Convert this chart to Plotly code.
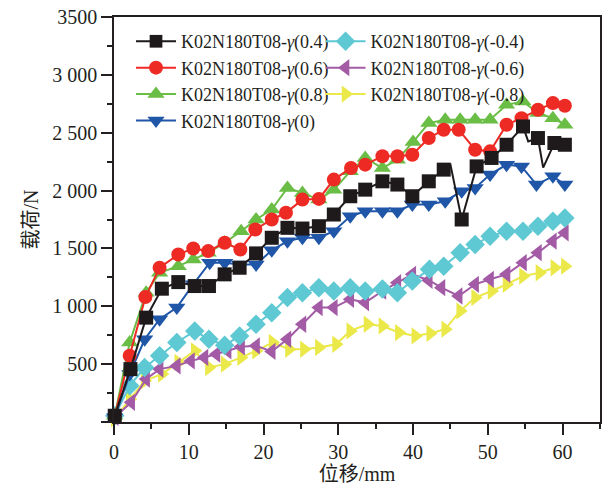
import plotly.graph_objects as go

# ---- data ----
x_p04 = [0.1, 2.2, 4.3, 6.4, 8.6, 10.8, 12.7, 14.8, 16.8, 19.0, 21.1, 23.2, 25.2, 27.4, 29.4, 31.6, 33.6,
         35.9, 37.9, 39.9, 42.1, 44.1, 45.0, 46.5, 48.5, 50.5, 52.5, 54.7, 55.4, 56.7, 57.4, 58.9, 60.3]
y_p04 = [54, 457, 902, 1152, 1209, 1175, 1175, 1276, 1333, 1457, 1592, 1678, 1672, 1692, 1793, 1951, 2008,
         2080, 2052, 1951, 2080, 2181, 2224, 1750, 2209, 2282, 2396, 2554, 2425, 2454, 2198, 2411, 2396]
m_p04 = [1, 1, 1, 1, 1, 1, 1, 1, 1, 1, 1, 1, 1, 1, 1, 1, 1,
         1, 1, 1, 1, 1, 0, 1, 1, 1, 1, 1, 0, 1, 0, 1, 1]

x_p06 = [0.1, 2.1, 4.2, 6.1, 8.6, 10.6, 12.6, 14.8, 16.9, 18.9, 21.1, 23.0, 25.2, 27.4, 29.4, 31.7, 33.6,
         35.9, 37.9, 39.9, 42.1, 44.1, 46.1, 48.3, 50.3, 52.5, 54.5, 56.7, 58.7, 60.3]
y_p06 = [54, 572, 1080, 1333, 1448, 1500, 1477, 1549, 1491, 1664, 1750, 1808, 1922, 1928, 2095, 2195, 2224,
         2296, 2296, 2310, 2454, 2526, 2526, 2353, 2339, 2569, 2626, 2698, 2756, 2733]

x_p08 = [0.1, 2.1, 4.3, 6.1, 8.6, 10.6, 12.6, 14.8, 17.0, 19.0, 21.1, 23.2, 25.2, 27.4, 29.4, 31.6, 33.6,
         35.9, 37.9, 40.0, 42.1, 44.3, 46.3, 48.3, 50.3, 52.5, 54.7, 56.7, 58.7, 60.3]
y_p08 = [54, 687, 1118, 1290, 1347, 1405, 1462, 1549, 1649, 1750, 1836, 2023, 1980, 1922, 2008, 2166, 2282,
         2195, 2267, 2420, 2583, 2612, 2612, 2612, 2612, 2741, 2770, 2670, 2626, 2569]

x_0 = [0.1, 2.1, 4.1, 6.1, 8.4, 10.6, 12.8, 14.8, 16.8, 19.0, 21.1, 23.2, 25.2, 27.4, 29.4, 31.6, 33.6,
       35.9, 37.9, 39.9, 42.1, 44.3, 46.5, 48.3, 50.3, 52.5, 54.5, 56.5, 58.7, 60.3]
y_0 = [40, 414, 715, 888, 989, 1190, 1377, 1377, 1362, 1362, 1484, 1563, 1592, 1592, 1649, 1778, 1821,
       1821, 1821, 1879, 1880, 1908, 1994, 2023, 2138, 2224, 2209, 2052, 2123, 2052]

x_m04 = [0.1, 2.1, 4.1, 6.1, 8.4, 10.8, 12.7, 14.8, 16.8, 19.0, 21.1, 23.2, 25.2, 27.4, 29.4, 31.6, 33.6,
         35.9, 37.9, 39.9, 42.2, 44.1, 46.3, 48.3, 50.3, 52.5, 54.7, 56.7, 58.7, 60.3]
y_m04 = [54, 313, 471, 572, 687, 787, 715, 663, 744, 845, 945, 1075, 1118, 1161, 1132, 1161, 1132,
         1150, 1118, 1218, 1319, 1347, 1463, 1534, 1606, 1649, 1649, 1692, 1735, 1764]

x_m06 = [0.1, 2.3, 4.3, 6.1, 8.4, 10.3, 12.1, 13.7, 15.2, 17.0, 19.0, 21.1, 23.2, 25.2, 27.4, 29.4, 31.6,
         33.6, 35.9, 37.9, 39.9, 42.1, 43.8, 46.1, 48.3, 50.3, 52.5, 54.7, 56.7, 58.7, 60.3]
y_m06 = [40, 170, 371, 457, 485, 528, 558, 586, 615, 650, 658, 610, 715, 845, 989, 989, 1060,
         1032, 1132, 1204, 1276, 1225, 1161, 1089, 1190, 1233, 1276, 1377, 1463, 1563, 1635]

x_m08 = [0.1, 2.1, 4.1, 6.4, 8.6, 10.8, 12.7, 14.8, 17.0, 19.0, 21.2, 23.4, 25.4, 27.4, 29.7, 31.6, 33.9,
         35.9, 38.1, 40.3, 42.3, 44.3, 46.3, 48.3, 50.5, 52.5, 54.7, 56.9, 58.9, 60.3]
y_m08 = [30, 198, 356, 414, 515, 615, 471, 500, 558, 615, 687, 629, 629, 644, 672, 787, 845,
         830, 773, 744, 766, 802, 960, 1075, 1132, 1190, 1261, 1290, 1333, 1347]

x_ticks = [0, 10, 20, 30, 40, 50, 60]
y_ticks = [0, 500, 1000, 1500, 2000, 2500, 3000, 3500]
y_ticktext = ["", "500", "1 000", "1 500", "2 000", "2 500", "3 000", "3500"]

FONT = "Liberation Serif, Times New Roman, Noto Sans CJK SC, serif"
AX = "#231f20"

series = [
    ("K02N180T08-<i>γ</i>(0.4)", x_p04, y_p04, "#1e1a1b", "square", 14, "legend", m_p04),
    ("K02N180T08-<i>γ</i>(0.6)", x_p06, y_p06, "#ee2a24", "circle", 14, "legend", None),
    ("K02N180T08-<i>γ</i>(0.8)", x_p08, y_p08, "#6abd45", "triangle-up", 15, "legend", None),
    ("K02N180T08-<i>γ</i>(0)", x_0, y_0, "#1f56a8", "triangle-down", 15, "legend", None),
    ("K02N180T08-<i>γ</i>(-0.4)", x_m04, y_m04, "#5ec8d3", "diamond", 15, "legend2", None),
    ("K02N180T08-<i>γ</i>(-0.6)", x_m06, y_m06, "#a35ba6", "triangle-left", 15, "legend2", None),
    ("K02N180T08-<i>γ</i>(-0.8)", x_m08, y_m08, "#ebe84a", "triangle-right", 15, "legend2", None),
]

fig = go.Figure()
# draw lower series first so upper ones sit on top like the reference
for name, xs, ys, col, sym, sz, leg, mflags in reversed(series):
    size = sz if mflags is None else [sz if f else 0 for f in mflags]
    fig.add_trace(go.Scatter(
        x=xs, y=ys, name=name, mode="lines+markers", legend=leg,
        line=dict(color=col, width=2),
        marker=dict(symbol=sym, size=size, color=col, opacity=1, line=dict(width=0)),
        cliponaxis=False,
    ))

fig.update_layout(
    width=606, height=489,
    margin=dict(l=114, r=4, t=17, b=67),
    paper_bgcolor="white", plot_bgcolor="white",
    font=dict(family=FONT, size=20, color=AX),
    showlegend=True,
    legend=dict(x=0.035, y=0.985, xanchor="left", yanchor="top",
                bgcolor="rgba(0,0,0,0)", font=dict(size=18, family=FONT, color=AX),
                traceorder="reversed", tracegroupgap=0, itemwidth=40,
                borderwidth=0),
    legend2=dict(x=0.425, y=0.985, xanchor="left", yanchor="top",
                 bgcolor="rgba(0,0,0,0)", font=dict(size=18, family=FONT, color=AX),
                 traceorder="reversed", tracegroupgap=0, itemwidth=40,
                 borderwidth=0),
    xaxis=dict(
        range=[0, 65], tickmode="array", tickvals=x_ticks,
        ticks="outside", ticklen=11, tickwidth=1.5, tickcolor=AX,
        minor=dict(tickmode="linear", tick0=0, dtick=5, ticks="outside", ticklen=5, tickwidth=1.5, tickcolor=AX),
        showline=True, linecolor=AX, linewidth=1.5, mirror=True,
        showgrid=False, zeroline=False,
        tickfont=dict(size=20, family=FONT, color=AX),
        title=dict(text="位移/mm", font=dict(size=20, family=FONT, color=AX), standoff=0),
    ),
    yaxis=dict(
        range=[0, 3500], tickmode="array", tickvals=y_ticks, ticktext=y_ticktext,
        ticks="outside", ticklen=11, tickwidth=1.5, tickcolor=AX,
        minor=dict(tickmode="linear", tick0=0, dtick=250, ticks="outside", ticklen=5, tickwidth=1.5, tickcolor=AX),
        showline=True, linecolor=AX, linewidth=1.5, mirror=True,
        showgrid=False, zeroline=False,
        tickfont=dict(size=20, family=FONT, color=AX),
        title=dict(text="载荷/N", font=dict(size=20, family=FONT, color=AX), standoff=8),
    ),
)

fig.write_html("out.html")
